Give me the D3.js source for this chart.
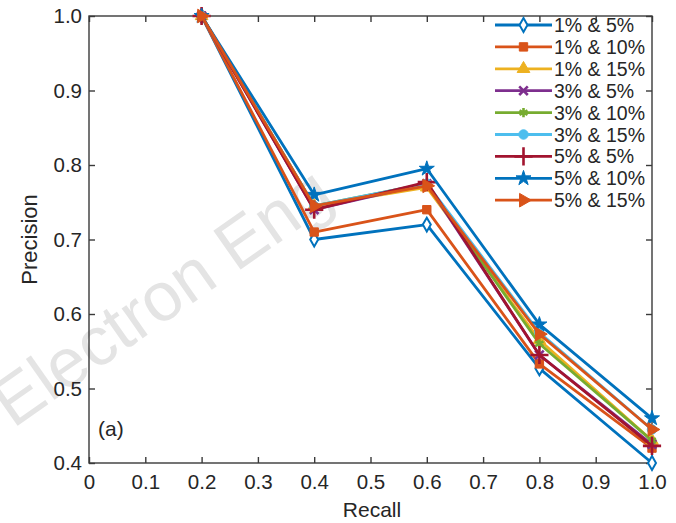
<!DOCTYPE html>
<html><head><meta charset="utf-8">
<script src="https://cdn.jsdelivr.net/npm/d3@7"></script>
<style>body{margin:0;background:#fff;} text{font-family:"Liberation Sans",Arial,sans-serif;}</style>
</head><body>
<svg id="chart" width="676" height="523"></svg>
<script>
const recall = [0.2, 0.4, 0.6, 0.8, 1.0];
const seriesNames = ["1% & 5%","1% & 10%","1% & 15%","3% & 5%","3% & 10%","3% & 15%","5% & 5%","5% & 10%","5% & 15%"];
const s1_5   = [1.0, 0.700, 0.720, 0.527, 0.400];
const s1_10  = [1.0, 0.710, 0.740, 0.533, 0.420];
const s1_15  = [1.0, 0.745, 0.770, 0.565, 0.430];
const s3_5   = [1.0, 0.740, 0.775, 0.545, 0.425];
const s3_10  = [1.0, 0.745, 0.775, 0.560, 0.430];
const s3_15  = [1.0, 0.745, 0.775, 0.575, 0.445];
const s5_5   = [1.0, 0.740, 0.777, 0.545, 0.423];
const s5_10  = [1.0, 0.760, 0.795, 0.586, 0.460];
const s5_15  = [1.0, 0.745, 0.772, 0.573, 0.445];
const seriesValues = [s1_5, s1_10, s1_15, s3_5, s3_10, s3_15, s5_5, s5_10, s5_15];
const colors = ["#0072BD","#D95319","#EDB120","#7E2F8E","#77AC30","#4DBEEE","#A2142F","#0072BD","#D95319"];
const markers = ["diamond","square","triangle","times","asterisk","circle","plus","star","triRight"];
const xTicks = [0,0.1,0.2,0.3,0.4,0.5,0.6,0.7,0.8,0.9,1.0];
const yTicks = [0.4,0.5,0.6,0.7,0.8,0.9,1.0];

const svg = d3.select("#chart");
const L = 89, R = 652, T = 16, B = 463;
const x = d3.scaleLinear().domain([0,1]).range([L,R]);
const y = d3.scaleLinear().domain([0.4,1.0]).range([B,T]);

// watermark
svg.append("text").attr("transform","translate(13,429) rotate(-35)")
  .attr("font-size",69).attr("fill","#e4e4e4")
  .text("Electron Eng");

const tickCol = "#262626";
svg.append("rect").attr("x",L).attr("y",T).attr("width",R-L).attr("height",B-T)
  .attr("fill","none").attr("stroke","#3a3a3a").attr("stroke-width",1.4);

const fmtX = d => d===0 ? "0" : d3.format(".1f")(d);
const xb = svg.append("g").attr("transform",`translate(0,${B})`)
  .call(d3.axisBottom(x).tickValues(xTicks).tickSize(-6).tickPadding(11).tickFormat(fmtX));
const xt = svg.append("g").attr("transform",`translate(0,${T})`)
  .call(d3.axisTop(x).tickValues(xTicks).tickSize(-6).tickFormat(""));
const yl = svg.append("g").attr("transform",`translate(${L},0)`)
  .call(d3.axisLeft(y).tickValues(yTicks).tickSize(-6).tickPadding(7).tickFormat(d3.format(".1f")));
const yr = svg.append("g").attr("transform",`translate(${R},0)`)
  .call(d3.axisRight(y).tickValues(yTicks).tickSize(-6).tickFormat(""));
[xb,xt,yl,yr].forEach(g=>{
  g.select(".domain").remove();
  g.selectAll("line").attr("stroke","#3a3a3a").attr("stroke-width",1.4);
  g.selectAll("text").attr("font-size",20.5).attr("fill",tickCol).attr("font-family","Liberation Sans, Arial, sans-serif");
});

svg.append("text").attr("x",372).attr("y",517).attr("text-anchor","middle")
  .attr("font-size",21).attr("fill",tickCol).text("Recall");
svg.append("text").attr("transform",`translate(37,${(T+B)/2}) rotate(-90)`).attr("text-anchor","middle")
  .attr("font-size",22).attr("fill",tickCol).text("Precision");
svg.append("text").attr("x",98).attr("y",436).attr("font-size",21).attr("fill",tickCol).text("(a)");

function markerPath(m){
  switch(m){
    case "diamond": return d3.symbol(d3.symbolDiamond, 55)();
    case "square": return d3.symbol(d3.symbolSquare, 70)();
    case "triangle": return d3.symbol(d3.symbolTriangle, 70)();
    case "times": return d3.symbol(d3.symbolTimes, 50)();
    case "asterisk": return d3.symbol(d3.symbolAsterisk, 60)();
    case "circle": return d3.symbol(d3.symbolCircle, 70)();
    case "plus": return d3.symbol(d3.symbolPlus, 110)();
    case "star": return d3.symbol(d3.symbolStar, 70)();
    case "triRight": return d3.symbol(d3.symbolTriangle, 80)();
  }
}
function drawMarker(g, m, c, px, py){
  const p = g.append("path").attr("d", markerPath(m))
    .attr("transform", `translate(${px},${py})` + (m==="triRight" ? " rotate(90)" : ""));
  if (m==="diamond") p.attr("fill","#fff").attr("stroke",c).attr("stroke-width",2);
  else if (m==="times"||m==="asterisk"||m==="plus") p.attr("fill","none").attr("stroke",c).attr("stroke-width",2.6);
  else p.attr("fill",c).attr("stroke",c).attr("stroke-width",1);
}

const line = d3.line().x((d,i)=>x(recall[i])).y(d=>y(d));
const plot = svg.append("g");
seriesValues.forEach((vals,k)=>{
  const g = plot.append("g");
  g.append("path").datum(vals).attr("d",line).attr("fill","none")
    .attr("stroke",colors[k]).attr("stroke-width",2.8).attr("stroke-linejoin","round");
  vals.forEach((v,i)=>drawMarker(g, markers[k], colors[k], x(recall[i]), y(v)));
});

// legend
const lg = svg.append("g");
seriesNames.forEach((name,k)=>{
  const yy = 25 + k*21.9;
  lg.append("line").attr("x1",495).attr("x2",552).attr("y1",yy).attr("y2",yy)
    .attr("stroke",colors[k]).attr("stroke-width",2.8);
  drawMarker(lg, markers[k], colors[k], 523.5, yy);
  lg.append("text").attr("x",554).attr("y",yy).attr("dy","0.36em")
    .attr("font-size",19.5).attr("fill",tickCol).text(name);
});
</script>
</body></html>
